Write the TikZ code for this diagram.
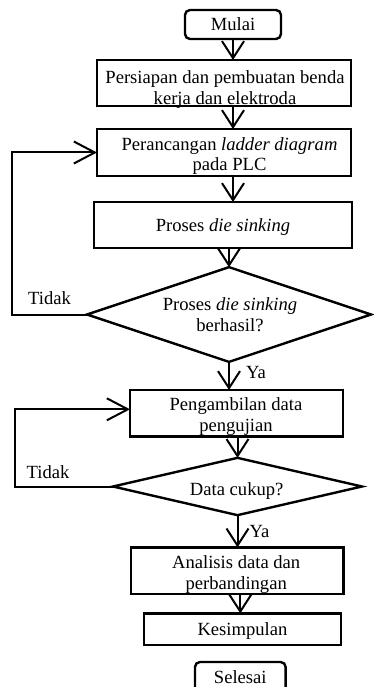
\documentclass[tikz,border=0pt]{standalone}
\usepackage{fontspec}
\setmainfont{Liberation Serif}
\usetikzlibrary{arrows.meta,shapes.geometric}

\begin{document}
\begin{tikzpicture}[x=1pt, y=-1pt,
		font=\fontsize{18.6}{20.5}\selectfont,
		box/.style={draw, line width=2.4pt, inner sep=0pt, outer sep=0pt, text depth=0pt},
		startstop/.style={box, rounded corners=5pt},
		decision/.style={draw, diamond, line width=2.4pt, inner sep=0pt, outer sep=0pt},
		txt/.style={align=center, anchor=north, inner sep=0pt},
		lbl/.style={inner sep=0pt},
		flow/.style={line width=2pt, -{Straight Barb[length=17pt, width=22pt]}},
		backflow/.style={line width=2pt, -{Straight Barb[length=21pt, width=22pt]}}]
		%%%%% FRAME %%%%%
		\useasboundingbox (0,0) rectangle (373,687);
		
		%%%%% BLOCKS %%%%%
		\node[startstop, minimum width=96pt, minimum height=29pt] (mulai) at (233,24.5) {Mulai};
		
		\node[box, minimum width=254pt, minimum height=46pt] (persiapan) at (223.7,83) {};
		\node[txt] (persiapan-t) at (225,70.6) {Persiapan dan pembuatan benda\\kerja dan elektroda};
		
		\node[box, minimum width=254pt, minimum height=47pt] (perancangan) at (224,152.5) {};
		\node[txt] (perancangan-t) at (229.5,137.3) {Perancangan \textit{ladder diagram}\\pada PLC};
		
		\node[box, minimum width=258pt, minimum height=46pt] (proses) at (223,225) {Proses \textit{die sinking}};
		
		\node[decision, minimum width=284pt, minimum height=94.7pt] (cekproses) at (229,314.5) {};
		\node[txt] (cekproses-t) at (230,297.8) {Proses \textit{die sinking}\\berhasil?};
		
		\node[box, minimum width=213pt, minimum height=46.7pt] (ambil) at (236.5,413.3) {};
		\node[txt] (ambil-t) at (236,397.8) {Pengambilan data\\pengujian};
		
		\node[decision, minimum width=249pt, minimum height=57.3pt] (cekdata) at (237.5,486.5) {};
		\node[txt] (cekdata-t) at (236.7,482.3) {Data cukup?};
		
		\node[box, minimum width=212.3pt, minimum height=46.7pt] (analisis) at (237.2,570.7) {};
		\node[txt] (analisis-t) at (236.2,555.6) {Analisis data dan\\perbandingan};
		
		\node[box, minimum width=197pt, minimum height=31.7pt] (kesimpulan) at (242.5,629.2) {Kesimpulan};
		
		\node[startstop, minimum width=90.7pt, minimum height=30pt] (selesai) at (240.3,677) {Selesai};
		
		%%%%% ARROWS %%%%%
		\draw[flow] (mulai.south) -- (mulai.south |- persiapan.north);
		\draw[flow] (mulai |- persiapan.south) -- (mulai |- perancangan.north);
		\draw[flow] (mulai |- perancangan.south) -- (mulai |- proses.north);
		\draw[flow] (cekproses |- proses.south) -- (cekproses.north);
		\draw[flow] (cekproses.south) -- (cekproses |- ambil.north) node[lbl, pos=0.58, anchor=base west, xshift=16pt] (ya1) {Ya};
		\draw[flow] (cekdata |- ambil.south) -- (cekdata.north);
		\draw[flow] (cekdata.south) -- (cekdata |- analisis.north) node[lbl, pos=0.7, anchor=base west, xshift=11pt] (ya2) {Ya};
		\draw[flow] (selesai |- analisis.south) -- (selesai |- kesimpulan.north);
		
		%%%%% LOOPS %%%%%
		\draw[backflow] (cekproses.west) -- ++(-75,0) node[lbl, midway, anchor=base, yshift=10pt] (tidak1) {Tidak} |- (perancangan.west);
		\draw[backflow] (cekdata.west) -- ++(-98,0) node[lbl, pos=0.663, anchor=base, yshift=7.7pt] (tidak2) {Tidak} |- ([yshift=4pt]ambil.west);
\end{tikzpicture}
\end{document}
